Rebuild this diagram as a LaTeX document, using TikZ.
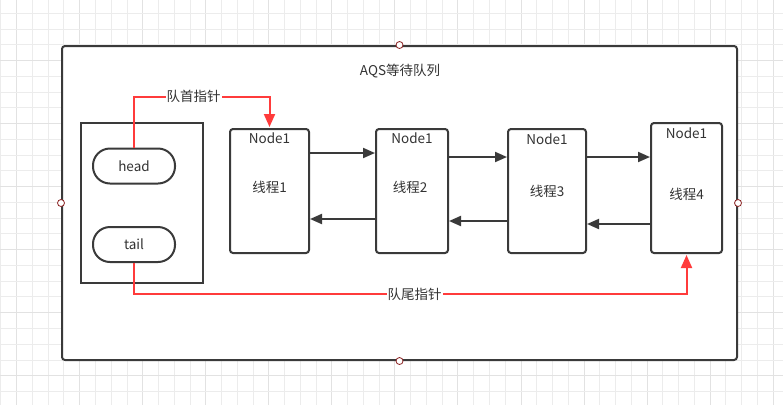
\documentclass[tikz,border=0pt]{standalone}
\usepackage{fontspec}
\setmainfont{Noto Sans CJK SC}
\usetikzlibrary{arrows.meta}
\definecolor{ln}{HTML}{3A3A3A}
\definecolor{rd}{HTML}{FF3B3B}
\definecolor{gridminor}{HTML}{ECECEC}
\definecolor{gridmajor}{HTML}{E2E2E2}
\definecolor{txt}{HTML}{333333}
\definecolor{portc}{HTML}{8B2222}
\begin{document}
\begin{tikzpicture}[x=1pt,y=-1pt,
  font=\fontsize{13.5}{15}\selectfont, text=txt,
  frame/.style={draw=ln, line width=2pt, rounded corners=3pt, inner sep=0pt, fill=white},
  holderbox/.style={draw=ln, line width=2pt, inner sep=0pt},
  pill/.style={draw=ln, line width=2pt, rounded corners=17pt, inner sep=0pt, minimum width=82pt, minimum height=35pt},
  qnode/.style={draw=ln, line width=2pt, rounded corners=3pt, inner sep=0pt},
  port/.style={circle, draw=portc, fill=white, line width=0.8pt, minimum size=7pt, inner sep=0pt},
  arr/.style={draw=ln, line width=2pt, -{Triangle[length=12pt,width=10pt]}},
  redarr/.style={draw=rd, line width=2pt, -{Triangle[length=13pt,width=11pt]}, shorten >=1pt},
  lbl/.style={fill=white, inner sep=1pt}]
\useasboundingbox (0,0) rectangle (783,405);
% background grid
\foreach \i in {0,...,49}{
  \pgfmathtruncatemacro{\m}{mod(\i,4)}
  \ifnum\m=1 \def\gc{gridmajor}\else\def\gc{gridminor}\fi
  \draw[draw=\gc, line width=1pt] ({0.94+15.76*\i},0) -- ({0.94+15.76*\i},405);
}
\foreach \j in {0,...,26}{
  \pgfmathtruncatemacro{\m}{mod(\j,4)}
  \ifnum\m=0 \def\gc{gridmajor}\else\def\gc{gridminor}\fi
  \draw[draw=\gc, line width=1pt] (0,{-2.46+15.76*\j}) -- (783,{-2.46+15.76*\j});
}
% outer frame
\node[frame, minimum width=675pt, minimum height=314pt] (outer) at (399.5,203) {};
\node[port] (pn) at (outer.north) {};
\node[port] (ps) at (outer.south) {};
\node[port] (pw) at (outer.west) {};
\node[port] (pe) at (outer.east) {};
\node (title) at (400,71) {AQS等待队列};
% holder with head / tail
\node[holderbox, minimum width=122pt, minimum height=160pt] (holder) at (142,203) {};
\node[pill] (head) at (134,166) {head};
\node[pill] (tail) at (134,244.5) {tail};
% queue nodes
\node[qnode, minimum width=79pt, minimum height=124pt] (n1) at (269.5,191) {};
\node[qnode, minimum width=72pt, minimum height=124pt] (n2) at (412,191) {};
\node[qnode, minimum width=78pt, minimum height=124pt] (n3) at (547,191) {};
\node[qnode, minimum width=71pt, minimum height=130pt] (n4) at (686.5,188) {};
\node (k1) at (269.5,138) {Node1};
\node (k2) at (412,138) {Node1};
\node (k3) at (547,139) {Node1};
\node (k4) at (686.5,133) {Node1};
\node (t1) at (269.5,187) {线程1};
\node (t2) at (410,187) {线程2};
\node (t3) at (547,191) {线程3};
\node (t4) at (686.5,194) {线程4};
% links
\draw[arr] ([yshift=38pt]n1.east) -- ([yshift=38pt]n2.west);
\draw[arr] ([yshift=-28pt]n2.west) -- ([yshift=-28pt]n1.east);
\draw[arr] ([yshift=34pt]n2.east) -- ([yshift=34pt]n3.west);
\draw[arr] ([yshift=-30pt]n3.west) -- ([yshift=-30pt]n2.east);
\draw[arr] ([yshift=34pt]n3.east) -- ([yshift=31pt]n4.west);
\draw[arr] ([yshift=-36pt]n4.west) -- ([yshift=-33pt]n3.east);
% pointers
\draw[redarr] (head.north) -- ++(0,-51) -| node[lbl, pos=0.22] {队首指针} (n1.north);
\draw[redarr] (tail.south) -- ++(0,31) -| node[lbl, pos=0.254] {队尾指针} (n4.south);
\end{tikzpicture}
\end{document}
